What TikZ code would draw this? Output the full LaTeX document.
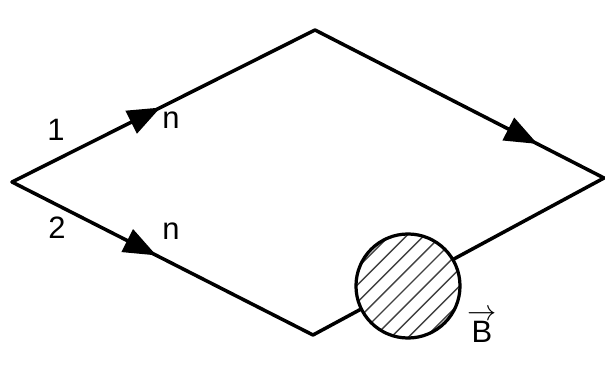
\documentclass[tikz,border=0pt]{standalone}
\usepackage{fontspec}
\setmainfont{Liberation Sans}
\usetikzlibrary{arrows.meta}
\usetikzlibrary{decorations.markings}
\tikzset{x=0.025cm, y=-0.025cm,
 wire/.style={line width=2.5pt, line cap=round, line join=miter},
 arrowat/.style={postaction={decorate}, decoration={markings,
   mark=at position #1 with {\arrow{Triangle[length=0.82cm,width=0.62cm]}}}},
 lbl/.style={font=\fontsize{22}{24}\selectfont, inner sep=0pt},
 field/.style={circle, draw, line width=2.3pt, fill=white, minimum size=2.6cm,
   path picture={
     \foreach \k in {-8,...,8}
       \draw[black!75, line width=1pt]
         ([xshift=\k*0.43cm]path picture bounding box.center) +(-2cm,-2cm) -- +(2cm,2cm);
   }},
 }

\begin{document}
\begin{tikzpicture}
        \useasboundingbox (0,0) rectangle (605,366);
        \coordinate (L) at (12,182);
        \coordinate (T) at (315,30);
        \coordinate (R) at (604,178);
        \coordinate (D) at (313,335);
        \draw[wire, arrowat=0.49] (L) -- (T);
        \draw[wire, arrowat=0.77] (T) -- (R);
        \draw[wire, arrowat=0.48] (L) -- (D);
        \draw[wire] (D) -- (R);
        \node[field] (fld) at (408,286) {};
        \node[lbl] (one) at (56,130) {1};
        \node[lbl] (two) at (57,228) {2};
        \node[lbl] (n1) at (171,120) {n};
        \node[lbl] (n2) at (171,231) {n};
        \node[lbl] (vecB) at (482,326) {\shortstack{$\rightarrow$\\[-2pt]B}};
    \end{tikzpicture}
\end{document}
